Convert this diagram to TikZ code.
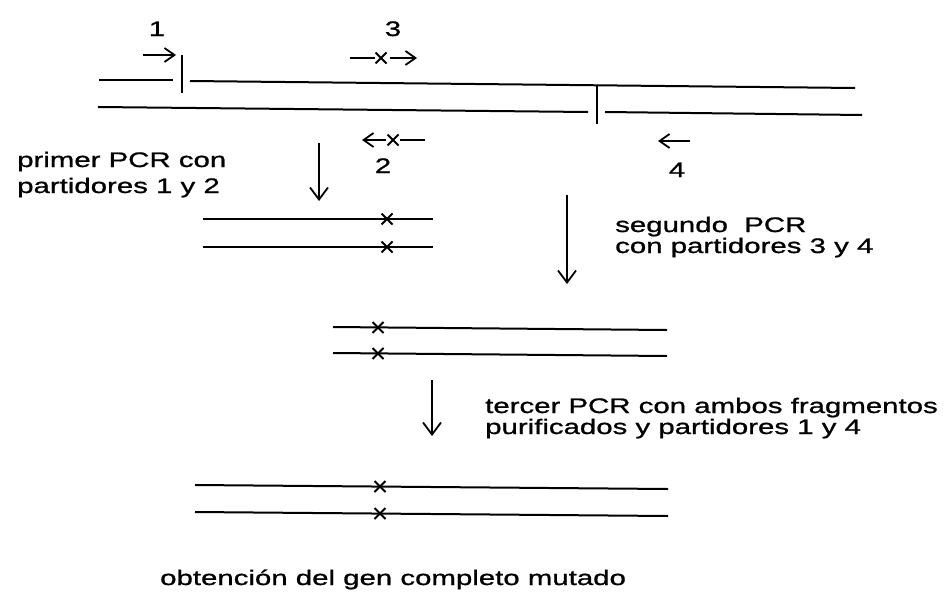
\documentclass[tikz,border=0pt]{standalone}
\usepackage{fontspec}
\newfontfamily\lab{Liberation Sans}[FakeStretch=1.4,FakeBold=1]
\usetikzlibrary{arrows.meta}
\begin{document}
\begin{tikzpicture}[x=1pt,y=-1pt,
  strand/.style={line width=2pt},
  prim/.style={line width=1.8pt},
  arr/.style={line width=1.8pt,-{Straight Barb[length=10pt,width=14pt]}},
  darr/.style={line width=1.8pt,-{Straight Barb[length=12pt,width=18pt]}},
  mut/.pic={\draw[line width=1.9pt] (-5.5,-5.5)--(5.5,5.5) (-5.5,5.5)--(5.5,-5.5);},
  lbl/.style={font=\lab\fontsize{21}{24}\selectfont,anchor=base west,inner sep=0pt},
  num/.style={font=\lab\fontsize{21}{24}\selectfont,anchor=base,inner sep=0pt}]
\useasboundingbox (0,0) rectangle (945,605);
\fill[white] (0,0) rectangle (945,605);

% template double strand
\coordinate (tl1) at (99,80);   \coordinate (tl2) at (173,80);
\coordinate (tr1) at (190,81);  \coordinate (tr2) at (855,88);
\coordinate (bl1) at (98,107);  \coordinate (bl2) at (588,112);
\coordinate (br1) at (605,112); \coordinate (br2) at (862,115);
\coordinate (k1a) at (182,55);  \coordinate (k1b) at (182,93);
\coordinate (k2a) at (597,85);  \coordinate (k2b) at (597,124);
\draw[strand] (tl1)--(tl2);
\draw[strand] (tr1)--(tr2);
\draw[strand] (bl1)--(bl2);
\draw[strand] (br1)--(br2);
\draw[prim] (k1a)--(k1b);
\draw[prim] (k2a)--(k2b);

% primer labels
\node[num] (n1) at (157,36) {1};
\node[num] (n3) at (393,36) {3};
\node[num] (n2) at (383,173) {2};
\node[num] (n4) at (677,177) {4};

% primer 1
\coordinate (p1a) at (143,55); \coordinate (p1b) at (176,55);
\draw[arr] (p1a)--(p1b);
% primer 3
\coordinate (p3a) at (350,58); \coordinate (p3b) at (375,58);
\coordinate (p3m) at (381,58);
\coordinate (p3c) at (390,58); \coordinate (p3d) at (417,58);
\draw[prim] (p3a)--(p3b);
\pic at (p3m) {mut};
\draw[arr] (p3c)--(p3d);
% primer 2
\coordinate (p2a) at (386,140); \coordinate (p2b) at (362,140);
\coordinate (p2m) at (393,140);
\coordinate (p2c) at (400,140); \coordinate (p2d) at (425,140);
\draw[arr] (p2a)--(p2b);
\pic at (p2m) {mut};
\draw[prim] (p2c)--(p2d);
% primer 4
\coordinate (p4a) at (690,141); \coordinate (p4b) at (658,141);
\draw[arr] (p4a)--(p4b);

% step arrows
\coordinate (d1a) at (319,143); \coordinate (d1b) at (319,201);
\draw[darr] (d1a)--(d1b);
\coordinate (d2a) at (567,195); \coordinate (d2b) at (567,284);
\draw[darr] (d2a)--(d2b);
\coordinate (d3a) at (432,380); \coordinate (d3b) at (432,436);
\draw[darr] (d3a)--(d3b);

% fragment 1
\coordinate (f1a) at (203,219); \coordinate (f1b) at (433,219);
\coordinate (f1c) at (203,247); \coordinate (f1d) at (433,247);
\draw[strand] (f1a)--(f1b);
\draw[strand] (f1c)--(f1d);
\pic at (387,219) {mut};
\pic at (387,247) {mut};

% fragment 2
\coordinate (f2a) at (333,327); \coordinate (f2b) at (667,330);
\coordinate (f2c) at (333,353); \coordinate (f2d) at (667,356);
\draw[strand] (f2a)--(f2b);
\draw[strand] (f2c)--(f2d);
\pic at (378,327.5) {mut};
\pic at (378,353.5) {mut};

% fragment 3
\coordinate (f3a) at (195,485); \coordinate (f3b) at (668,489);
\coordinate (f3c) at (195,512); \coordinate (f3d) at (668,516);
\draw[strand] (f3a)--(f3b);
\draw[strand] (f3c)--(f3d);
\pic at (380,486.5) {mut};
\pic at (380,513.5) {mut};

% texts
\node[lbl] (t1a) at (17,167) {primer PCR con};
\node[lbl] (t1b) at (17,193) {partidores 1 y 2};
\node[lbl] (t2a) at (615,232) {segundo\ \ PCR};
\node[lbl] (t2b) at (615,253) {con partidores 3 y 4};
\node[lbl] (t3a) at (485,413) {tercer PCR con ambos fragmentos};
\node[lbl] (t3b) at (485,434) {purificados y partidores 1 y 4};
\node[lbl] (t4) at (160,585) {obtención del gen completo mutado};
\end{tikzpicture}
\end{document}
